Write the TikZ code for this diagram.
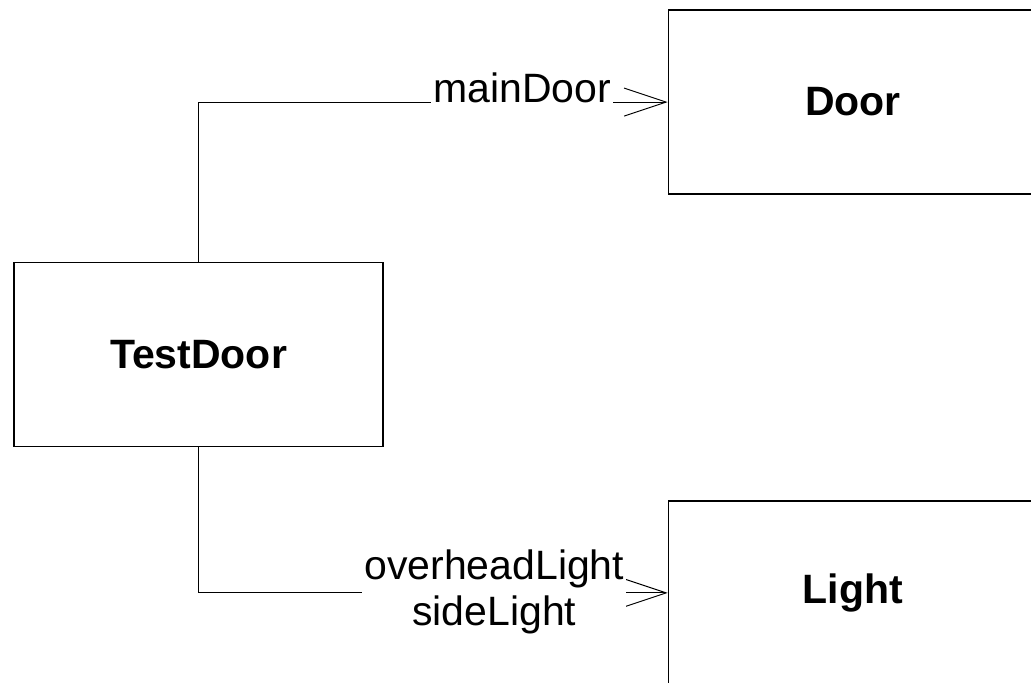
\documentclass[tikz,border=0pt]{standalone}
\usepackage{fontspec}
\setmainfont{Liberation Sans}
\usetikzlibrary{positioning}
\usepgflibrary{arrows.meta}

\begin{document}
\begin{tikzpicture}
    [x=1pt, y=1pt,
    line width=0.5pt,
    box/.style={draw, line width=0.7pt, minimum width=184.5pt, minimum height=92pt,
        font=\fontsize{20.5}{24}\selectfont\bfseries},
    lbl/.style={fill=white, inner sep=1pt, align=center,
        font=\fontsize{20.5}{23}\selectfont},
    assoc/.style={-{Straight Barb[length=21pt, width=14pt]}}]
        \useasboundingbox (0,0) rectangle (515.5,-341.5);
        \clip (0,0) rectangle (515.5,-341.5);
        %% Classes
        \node[box] (T) at (99.25,-177.25) {TestDoor};
        \node[box, above right=33.5pt and 142pt of T] (D) {Door};
        \node[box, below right=26.5pt and 142pt of T] (L) {Light};

        %% Associations
        \draw[assoc] (T.north) |- (D.west)
            node[lbl, anchor=base east, xshift=-27pt] {mainDoor};
        \draw[assoc] (T.south) |- (L.west)
            node[lbl, anchor=east, xshift=-20.5pt, yshift=0.5pt] {overheadLight\\sideLight};
    \end{tikzpicture}
\end{document}
